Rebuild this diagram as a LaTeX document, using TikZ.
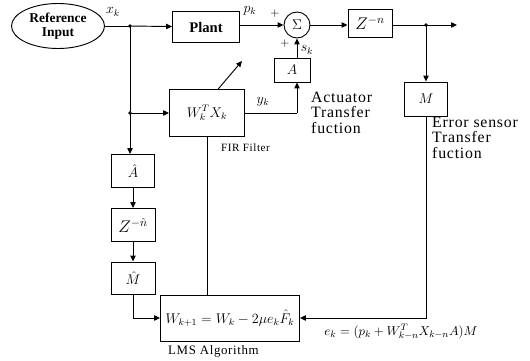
\documentclass[tikz,border=0pt]{standalone}
\usepackage{fontspec}
\setmainfont{Liberation Serif}
\newfontfamily\labelfont[LetterSpace=5]{Liberation Serif}
\usepackage{tikz}
\usetikzlibrary{arrows.meta,shapes.geometric}

\begin{document}
\begin{tikzpicture}[
    x=0.03cm,
    y=-0.03cm,
    block/.style={
        draw,
        thick,
        inner sep=1pt
    },
    sig/.style={
        thick,
        -{Triangle[length=5pt,width=4.5pt]}
    },
    wire/.style={
        thick
    },
    tag/.style={
        font=\labelfont\fontsize{13.5}{13}\selectfont,
        align=left,
        inner sep=0pt
    }
]

\useasboundingbox (0,0) rectangle (530,360);


\node[ellipse, draw, thick, minimum width=2.79cm, minimum height=1.35cm,
      font=\fontsize{11.5}{12}\selectfont\bfseries, align=center, inner sep=0pt]
    (ref) at (58,26) {Reference\\Input};
\node[block, minimum width=2.01cm, minimum height=0.93cm,
      font=\fontsize{12.5}{13}\selectfont\bfseries]
    (plant) at (206,27) {Plant};
\node[circle, draw, thick, minimum size=0.78cm, inner sep=0pt] (sum) at (297,25)
    {\large $\Sigma$};
\node[block, minimum width=1.32cm, minimum height=0.84cm] (zn) at (370,23)
    {\Large $Z^{-n}$};
\node[block, minimum width=1.08cm, minimum height=0.72cm] (act) at (292,70)
    {\large $A$};
\node[block, minimum width=1.29cm, minimum height=1.02cm] (err) at (426,99)
    {\large $M$};
\node[block, minimum width=2.25cm, minimum height=1.41cm] (fir) at (207,113)
    {\large $W_k^TX_k$};
\node[block, minimum width=1.29cm, minimum height=0.99cm] (ahat) at (133,171)
    {\large $\hat{A}$};
\node[block, minimum width=1.32cm, minimum height=0.99cm] (zd) at (133,225)
    {\Large $Z^{-\hat{n}}$};
\node[block, minimum width=1.32cm, minimum height=0.96cm] (mhat) at (133,278)
    {\large $\hat{M}$};
\node[block, minimum width=4.17cm, minimum height=1.38cm] (lms) at (230,318)
    {\large $W_{k+1}=W_k-2\mu e_k\hat{F}_k$};


\coordinate (jx) at (130,26);
\coordinate (jf) at (130,113);
\coordinate (jy) at (426,25);
\coordinate (out) at (457,25);
\coordinate (adapt) at (242,61);
\coordinate (up) at (297,113);


\draw[wire] (ref) -- (jx);
\draw[sig] (jx) -- (plant);
\draw[sig] (plant.east |- sum) -- (sum);
\draw[sig] (sum) -- (zn.west |- sum);
\draw[sig] (zn.east |- jy) -- (out);
\draw[sig] (jy) -- (err);
\draw[sig] (jx) -- (jx |- ahat.north);
\draw[sig] (jf) -- (fir);
\draw[wire] (fir) -- (up);
\draw[sig] (up) -- (up |- act.south);
\draw[sig] (up |- act.north) -- (sum);
\draw[sig] (fir.65) -- (adapt);
\draw[sig] (ahat) -- (zd);
\draw[sig] (zd) -- (mhat);
\draw[sig] (mhat) |- (lms);
\draw[wire] (fir.south) -- (fir.south |- lms.north);
\draw[sig] (err) |- (lms);


\foreach \j in {jx,jf,jy}
    \fill (\j) circle (1.6pt);


\node at (113,12) {\large $x_k$};
\node at (250,11) {\large $p_k$};
\node at (275,14) {$+$};
\node at (285,44) {$+$};
\node at (307,50) {\large $s_k$};
\node at (263,102) {\large $y_k$};
\node[tag, anchor=north west] at (311,92) {Actuator\\Transfer\\fuction};
\node[tag, anchor=north west] at (432,117) {Error sensor\\Transfer\\fuction};
\node[tag, font=\labelfont\fontsize{9.5}{10}\selectfont, anchor=west] at (221,148)
    {FIR Filter};
\node[tag, font=\labelfont\fontsize{11}{12}\selectfont, anchor=west] at (168,351)
    {LMS Algorithm};
\node[font=\fontsize{11}{12}\selectfont] at (401,332)
    {$e_k=(p_k+W^T_{k-n}X_{k-n}A)M$};

\end{tikzpicture}
\end{document}
